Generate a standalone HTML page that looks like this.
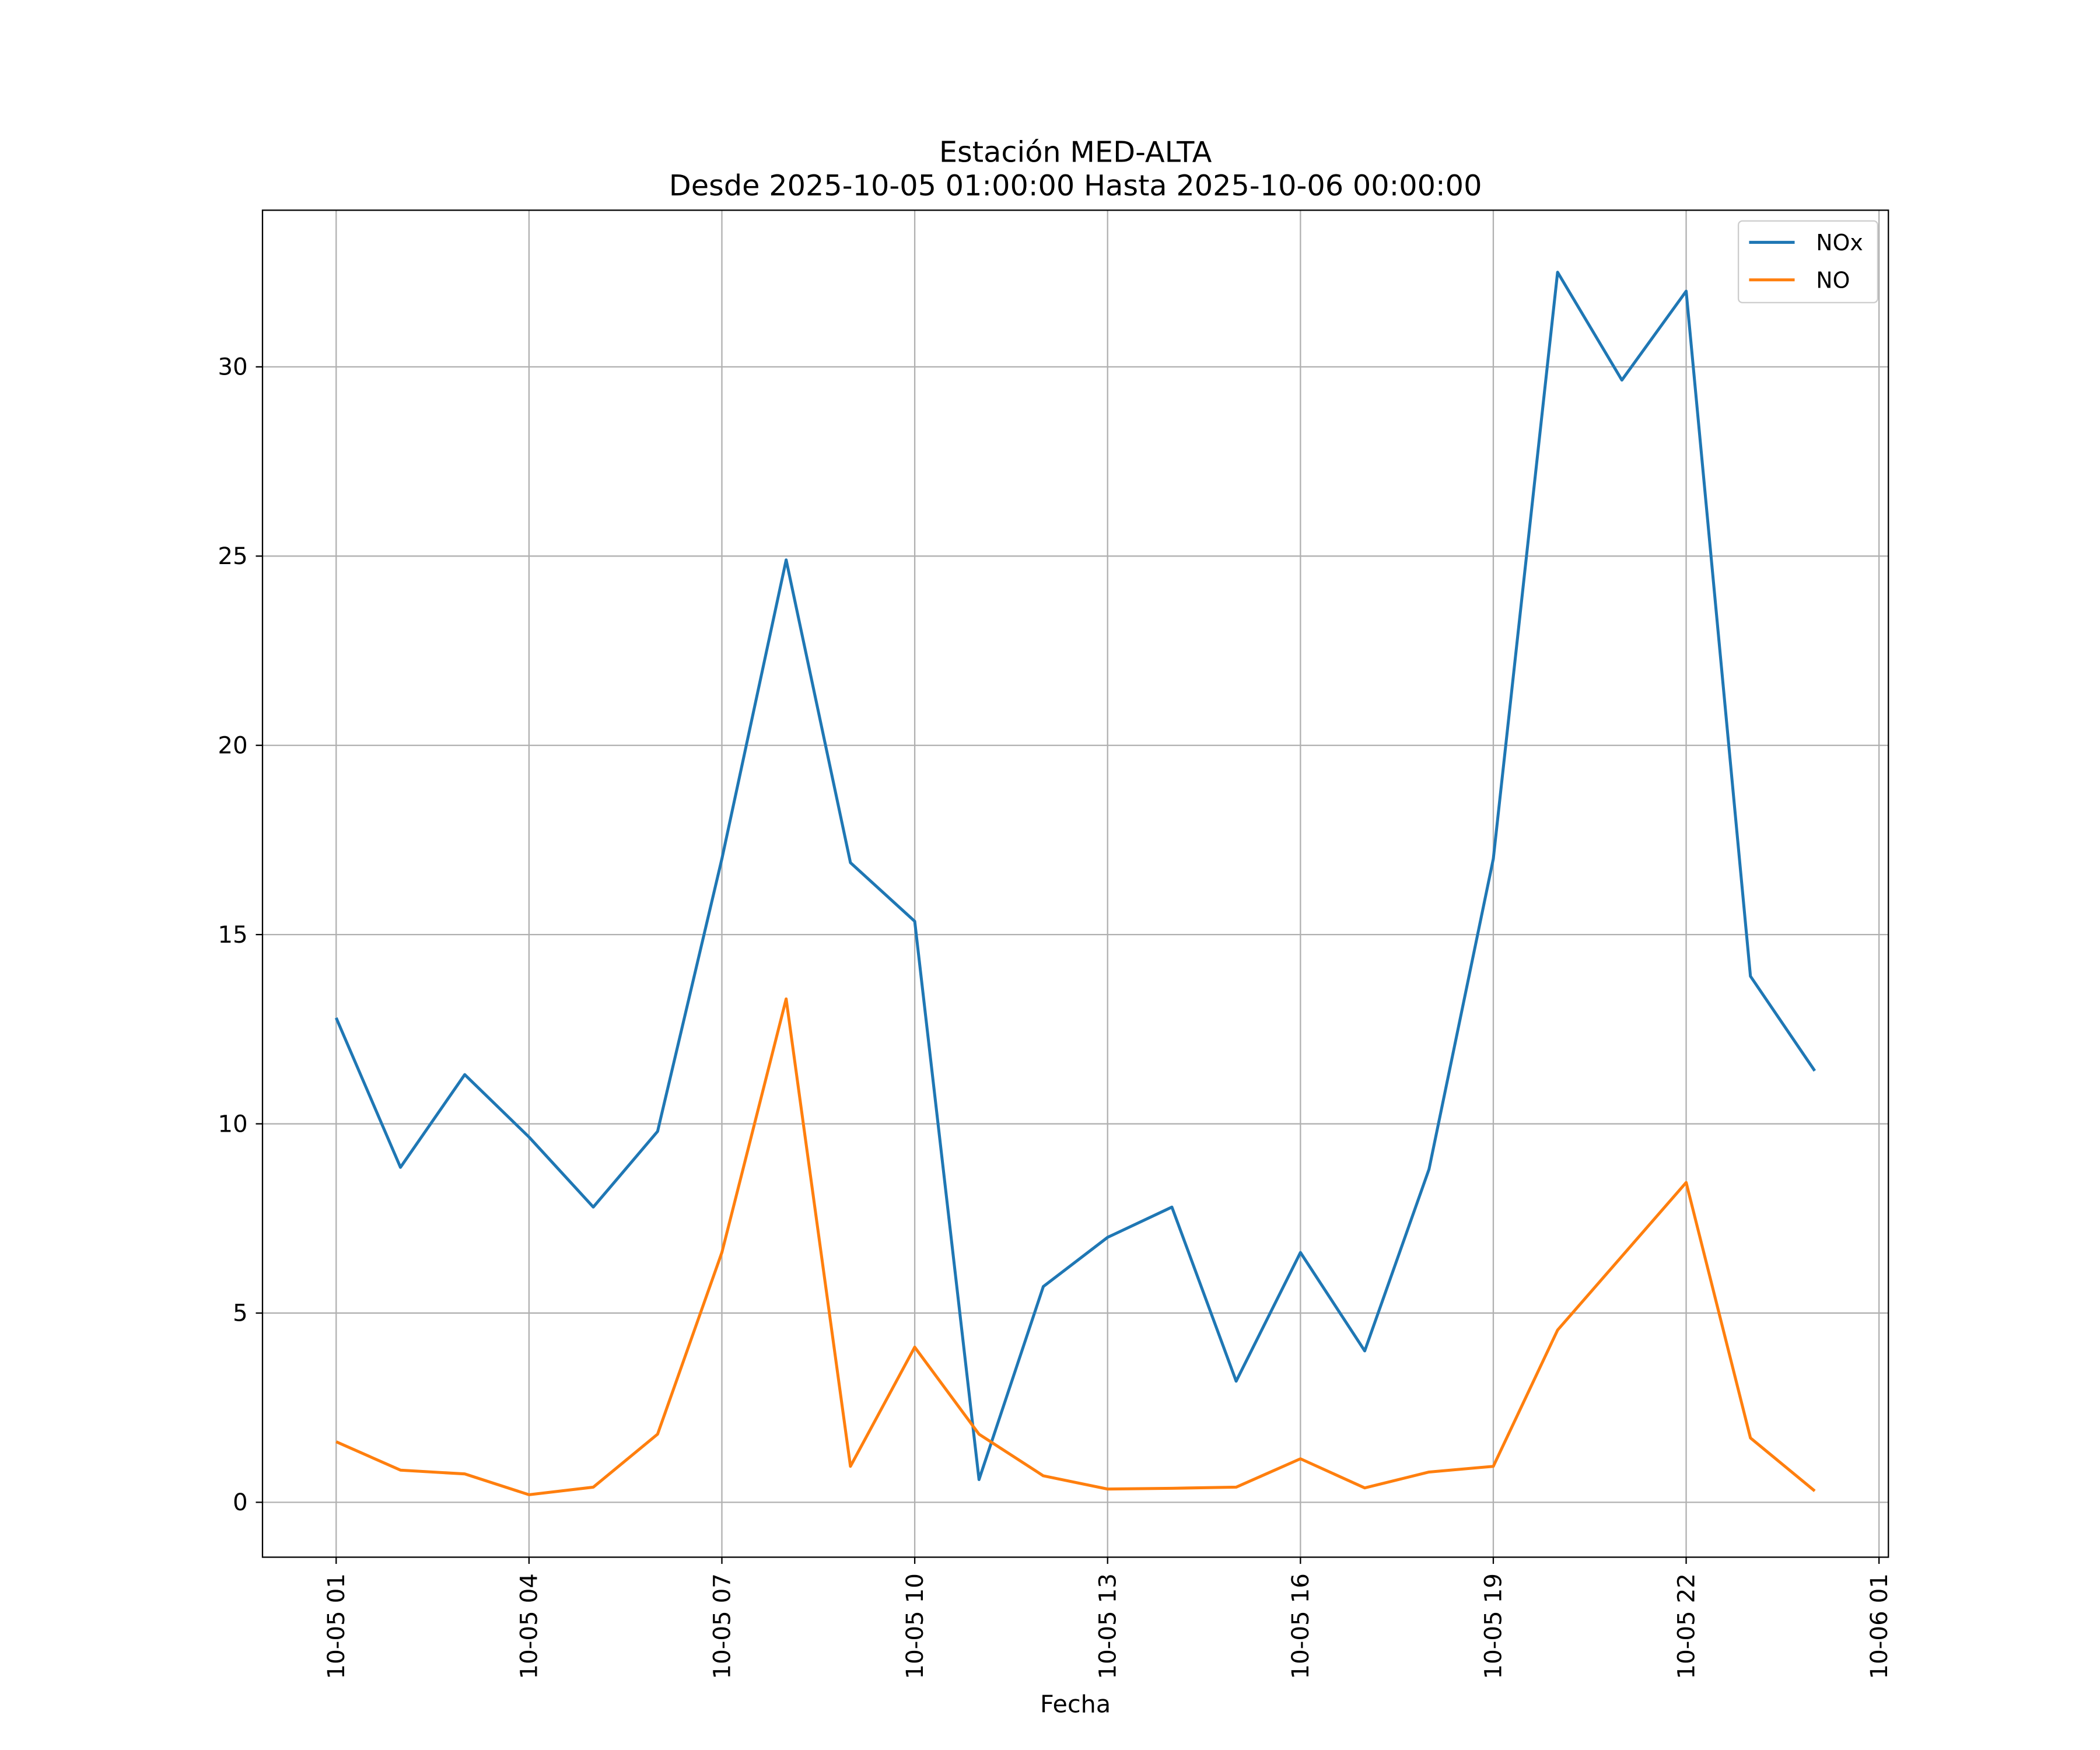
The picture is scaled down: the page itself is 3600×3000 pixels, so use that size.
<!DOCTYPE html>
<html><head><meta charset="utf-8"><style>
html,body{margin:0;padding:0;background:#fff;}
svg{display:block;font-family:"DejaVu Sans","Liberation Sans",sans-serif;}
</style></head><body>
<svg id="chart" width="3600" height="3000" viewBox="0 0 1568 1307" preserveAspectRatio="none" xmlns="http://www.w3.org/2000/svg">
<rect width="1568" height="1307" fill="#fff"/>
<text x="803" y="121" font-size="21.5" text-anchor="middle">Estación MED-ALTA</text>
<text x="803" y="146" font-size="21.5" text-anchor="middle">Desde 2025-10-05 01:00:00 Hasta 2025-10-06 00:00:00</text>
<g id="grid"></g>
<g id="series"></g>
<rect x="196" y="157" width="1214" height="1006" fill="none" stroke="#000" stroke-width="1"/>
<g id="ticks"></g>
<text x="803" y="1279" font-size="18" text-anchor="middle">Fecha</text>
<g>
<rect x="1298" y="165" width="104" height="61" fill="#fff" stroke="#ccc" rx="3"/>
<line x1="1306" y1="181" x2="1340" y2="181" stroke="#1f77b4" stroke-width="2.2"/>
<text x="1356" y="187" font-size="16.5">NOx</text>
<line x1="1306" y1="209" x2="1340" y2="209" stroke="#ff7f0e" stroke-width="2.2"/>
<text x="1356" y="215" font-size="16.5">NO</text>
</g>
</svg>
<script>
const hours = [1,2,3,4,5,6,7,8,9,10,11,12,13,14,15,16,17,18,19,20,21,22,23,24];
const nox = [12.8,8.85,11.3,9.65,7.8,9.8,17.0,24.9,16.9,15.35,0.6,5.7,7.0,7.8,3.2,6.6,4.0,8.8,17.0,32.5,29.65,32.0,13.9,11.4];
const no = [1.6,0.85,0.75,0.2,0.4,1.8,6.6,13.3,0.95,4.1,1.8,0.7,0.35,0.37,0.4,1.15,0.38,0.8,0.95,4.55,6.5,8.45,1.7,0.3];
const yTicks = [0,5,10,15,20,25,30];
const xTickHours = [1,4,7,10,13,16,19,22,25];
const xTickLabels = ["10-05 01","10-05 04","10-05 07","10-05 10","10-05 13","10-05 16","10-05 19","10-05 22","10-06 01"];

const NS="http://www.w3.org/2000/svg";
function xs(h){return 251+(h-1)*48;}
function ys(v){return 1122-v*28.267;}
const grid=document.getElementById('grid'), ticks=document.getElementById('ticks'), series=document.getElementById('series');
function mk(tag,attrs,parent){const e=document.createElementNS(NS,tag);for(const k in attrs)e.setAttribute(k,attrs[k]);parent.appendChild(e);return e;}

yTicks.forEach(v=>{
  const y=ys(v);
  const g=mk('line',{x1:196,x2:1410,y1:y,y2:y,stroke:'#b0b0b0','stroke-width':1},grid);
  
  
  mk('line',{x1:191,x2:196,y1:y,y2:y,stroke:'#000'},ticks);
  const t=mk('text',{x:185,y:y+6,'font-size':17.6,'text-anchor':'end'},ticks);
  t.textContent=String(v);
  
  
});
xTickHours.forEach((h,i)=>{
  const x=xs(h);
  const g=mk('line',{x1:x,x2:x,y1:157,y2:1163,stroke:'#b0b0b0','stroke-width':1},grid);
  
  
  mk('line',{x1:x,x2:x,y1:1163,y2:1168,stroke:'#000'},ticks);
  const t=mk('text',{x:0,y:0,'font-size':17.6,'text-anchor':'end',transform:`translate(${x+6},1175) rotate(-90)`},ticks);
  t.textContent=xTickLabels[i];
  
  
});
function drawLine(vals,color,name){
  const pts=vals.map((v,i)=>xs(hours[i])+','+ys(v)).join(' ');
  const p=mk('polyline',{points:pts,fill:'none',stroke:color,'stroke-width':2.2,'stroke-linejoin':'round'},series);
  
  
}
drawLine(nox,'#1f77b4','nox-line');
drawLine(no,'#ff7f0e','no-line');
</script>
</body></html>
